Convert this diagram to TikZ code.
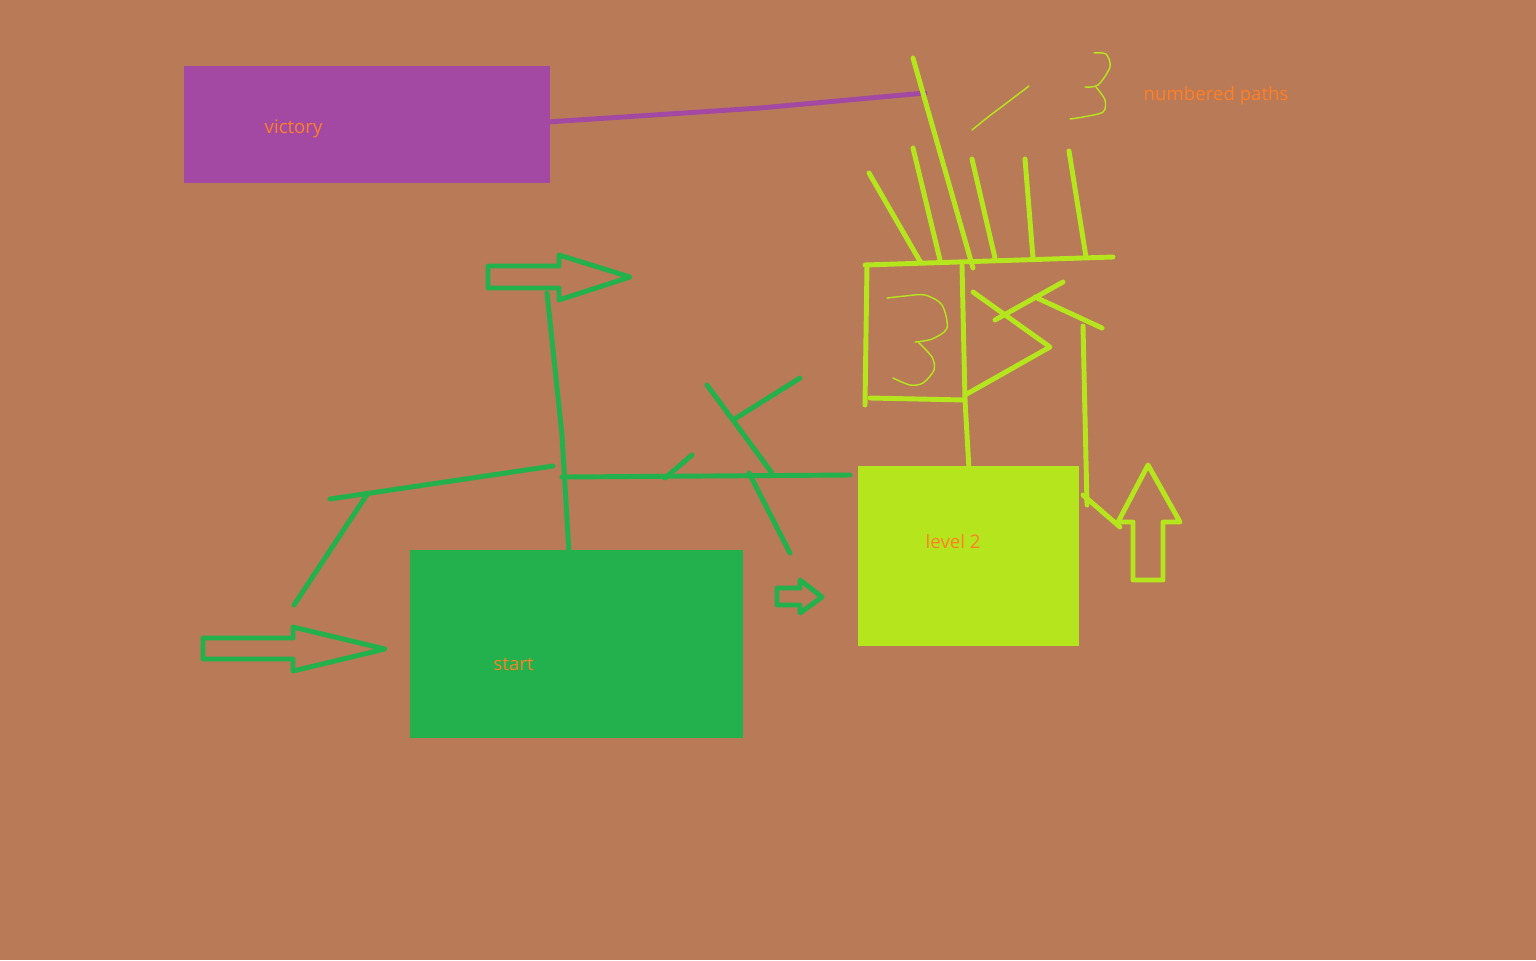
\documentclass[tikz,border=0pt]{standalone}
\usepackage{fontspec}
\setmainfont{Open Sans}
\usetikzlibrary{positioning}
\definecolor{paintbrown}{HTML}{B97A57}
\definecolor{paintpurple}{HTML}{A349A4}
\definecolor{paintgreen}{HTML}{22B14C}
\definecolor{paintlime}{HTML}{B5E61D}
\definecolor{paintorange}{HTML}{FF7F27}

\begin{document}
\begin{tikzpicture}[x=0.01cm, y=-0.01cm,
    box/.style={rectangle, inner sep=0pt, anchor=north west},
    lbl/.style={text=paintorange, font=\fontsize{5.3}{6}\selectfont, anchor=west, inner sep=0pt},
    pen/.style={line width=1.4pt, line cap=round, line join=round},
    fine/.style={line width=0.4pt, line cap=round, paintlime}]
    \fill[paintbrown] (0,0) rectangle (1536,960);

    \node[box, fill=paintpurple, minimum width=3.66cm, minimum height=1.17cm] (victory) at (183.5,65.5) {};
    \node[box, fill=paintgreen, minimum width=3.33cm, minimum height=1.88cm] (start) at (409.5,549.5) {};
    \node[box, fill=paintlime, minimum width=2.21cm, minimum height=1.80cm] (level2) at (857.5,465.5) {};
    \node[lbl] (victorytxt) at (264,129) {victory};
    \node[lbl] (starttxt) at (493,664) {start};
    \node[lbl] (level2txt) at (925,541) {level 2};
    \node[lbl] (pathstxt) at (1143,96) {numbered paths};

    \coordinate (pathtop) at (925,93);
    \draw[pen, paintpurple] ([yshift=0.03cm]victory.east) -- (760,108) -- (pathtop);

    \draw[pen, paintgreen] (488,266) -- (559,266) -- (559,255) -- (630,277) -- (559,300) -- (559,288) -- (488,288) -- cycle;
    \draw[pen, paintgreen] (203,638) -- (293,638) -- (293,627) -- (385,649) -- (293,671) -- (293,659) -- (203,659) -- cycle;
    \draw[pen, paintgreen] (777,588) -- (800,588) -- (800,580) -- (822,597) -- (800,613) -- (800,605) -- (777,605) -- cycle;
    \draw[pen, paintgreen] ([xshift=-0.08cm]start.north) -- (562,435) -- (547,293);
    \draw[pen, paintgreen] (562,477) -- (850,475);
    \draw[pen, paintgreen] (665,478) -- (692,455);
    \draw[pen, paintgreen] (707,385) -- (772,473);
    \draw[pen, paintgreen] (733,420) -- (800,378);
    \draw[pen, paintgreen] (749,473) -- (790,553);
    \draw[pen, paintgreen] (330,499) -- (553,466);
    \draw[pen, paintgreen] (368,493) -- (294,605);

    \draw[pen, paintlime] (913,58) -- (973,268);
    \draw[pen, paintlime] (865,265) -- (1113,257);
    \draw[pen, paintlime] (869,173) -- (921,263);
    \draw[pen, paintlime] (913,148) -- (940,260);
    \draw[pen, paintlime] (972,159) -- (995,258);
    \draw[pen, paintlime] (1025,159) -- (1033,258);
    \draw[pen, paintlime] (1069,151) -- (1086,257);
    \draw[fine] plot[smooth] coordinates {(972,130) (988,117) (1004,105) (1029,86)};
    \draw[fine] plot[smooth] coordinates {(1094,53) (1106,54) (1110,67) (1098,85) (1085,87)};
    \draw[fine] plot[smooth] coordinates {(1096,87) (1105,100) (1103,112) (1083,117) (1070,119)};

    \draw[pen, paintlime] (867,265) -- (865,405);
    \draw[pen, paintlime] (870,398) -- (965,400);
    \draw[pen, paintlime] (level2.north) -- (965,400) -- (962,265);
    \draw[fine] plot[smooth] coordinates {(887,298) (905,296) (925,295) (942,305) (947,328) (932,339) (915,342)};
    \draw[fine] plot[smooth] coordinates {(918,342) (932,357) (934,370) (923,383) (910,385) (893,378)};
    \draw[pen, paintlime] (965,395) -- (1050,347) -- (973,292);
    \draw[pen, paintlime] (995,320) -- (1063,282);
    \draw[pen, paintlime] (1035,297) -- (1102,328);
    \draw[pen, paintlime] (1083,326) -- (1087,505);
    \draw[pen, paintlime] (1083,495) -- (1120,527);
    \draw[pen, paintlime] (1133,580) -- (1133,522) -- (1118,522) -- (1148,465) -- (1180,522) -- (1163,522) -- (1163,580) -- cycle;
\end{tikzpicture}
\end{document}
